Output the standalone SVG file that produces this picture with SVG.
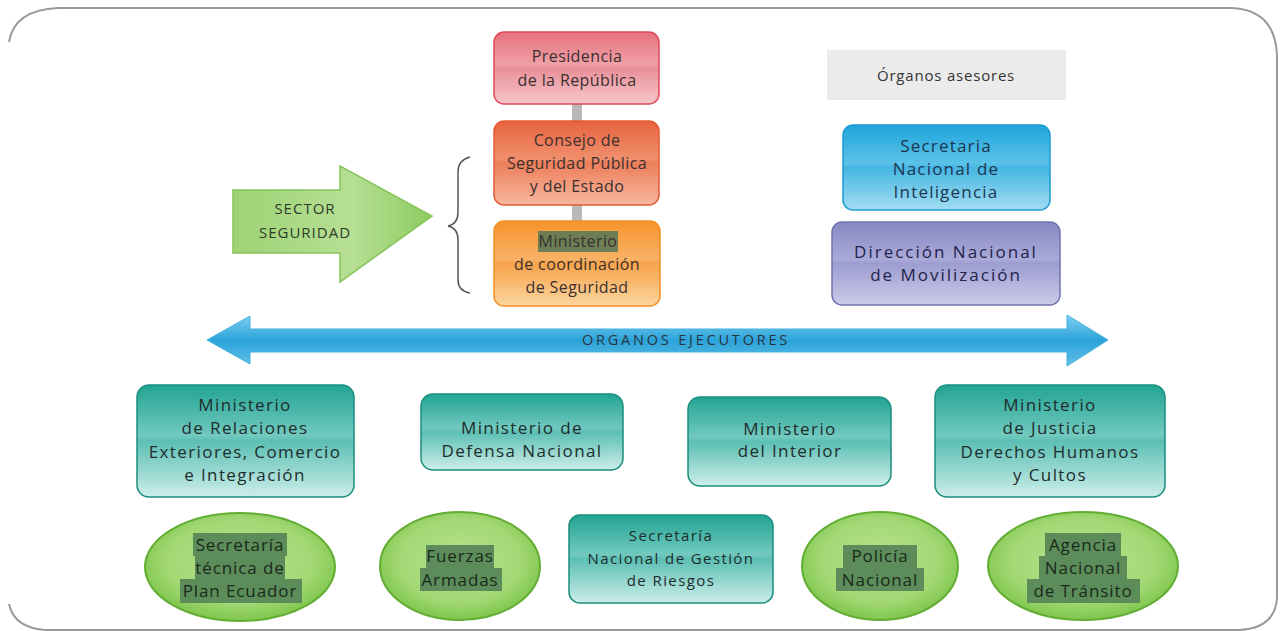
<svg xmlns="http://www.w3.org/2000/svg" width="1284" height="631" viewBox="0 0 1284 631">
<defs>
<linearGradient id="gPres" x1="0" y1="0" x2="0" y2="1">
<stop offset="0" stop-color="#e6717c"/><stop offset="0.45" stop-color="#efa0a7"/><stop offset="0.5" stop-color="#ea8f98"/><stop offset="1" stop-color="#f6c7cb"/>
</linearGradient>
<linearGradient id="gCons" x1="0" y1="0" x2="0" y2="1">
<stop offset="0" stop-color="#e8633e"/><stop offset="0.45" stop-color="#f08f6d"/><stop offset="0.5" stop-color="#ec7e5a"/><stop offset="1" stop-color="#f8b79f"/>
</linearGradient>
<linearGradient id="gCoord" x1="0" y1="0" x2="0" y2="1">
<stop offset="0" stop-color="#f6932c"/><stop offset="0.45" stop-color="#f9b266"/><stop offset="0.5" stop-color="#f7a34a"/><stop offset="1" stop-color="#fcd59e"/>
</linearGradient>
<linearGradient id="gBlue" x1="0" y1="0" x2="0" y2="1">
<stop offset="0" stop-color="#1ea5dc"/><stop offset="0.45" stop-color="#5cc2e8"/><stop offset="0.5" stop-color="#45b6e2"/><stop offset="1" stop-color="#a2ddf2"/>
</linearGradient>
<linearGradient id="gPurp" x1="0" y1="0" x2="0" y2="1">
<stop offset="0" stop-color="#8787c4"/><stop offset="0.45" stop-color="#aaaad8"/><stop offset="0.5" stop-color="#9d9dd1"/><stop offset="1" stop-color="#cbcbe9"/>
</linearGradient>
<linearGradient id="gTeal" x1="0" y1="0" x2="0" y2="1">
<stop offset="0" stop-color="#22a493"/><stop offset="0.45" stop-color="#72c9bf"/><stop offset="0.5" stop-color="#5cbfb3"/><stop offset="1" stop-color="#cdeeea"/>
</linearGradient>
<radialGradient id="gEll" cx="0.5" cy="0.45" r="0.55">
<stop offset="0" stop-color="#b8e28e"/><stop offset="0.7" stop-color="#a2d874"/><stop offset="1" stop-color="#7fc64c"/>
</radialGradient>
<linearGradient id="gGreenArrow" x1="0" y1="0" x2="1" y2="0">
<stop offset="0" stop-color="#9dd375"/><stop offset="0.6" stop-color="#b6df94"/><stop offset="1" stop-color="#8ccc5f"/>
</linearGradient>
<linearGradient id="gBlueArrow" x1="0" y1="0" x2="0" y2="1">
<stop offset="0" stop-color="#7fd0f0"/><stop offset="0.5" stop-color="#2ba3d9"/><stop offset="1" stop-color="#62bfe7"/>
</linearGradient>
<style>
text{font-family:"Open Sans","Noto Sans","DejaVu Sans",sans-serif;text-anchor:middle;}
.t{font-size:16px;fill:#3b3030;letter-spacing:0.4px;}
.tb{font-size:17px;fill:#1c3550;letter-spacing:1.2px;}
.tp{font-size:17px;fill:#23234a;letter-spacing:2px;}
.tt{font-size:17px;fill:#1e2d2c;letter-spacing:1.4px;}
.te{font-size:17px;fill:#1a2a1a;letter-spacing:0.9px;}
.box{stroke-width:1.5;}
.hl{fill:#5c8c5a;}
.link{stroke:#b9b9b9;stroke-width:10;}
</style>
</defs>
<rect x="0" y="0" width="1284" height="631" fill="#ffffff"/>
<path id="frame" d="M 9 42 Q 14 10 58 8 L 1232 8 Q 1275 10 1277 55 L 1277 598 Q 1275 628 1240 630 L 46 630 Q 14 628 9 604" fill="none" stroke="#9a9a9a" stroke-width="2"/>

<g id="connectors">
<line class="link" x1="577" y1="104" x2="577" y2="122"/>
<line class="link" x1="577" y1="205" x2="577" y2="222"/>
</g>

<g id="sector-seguridad">
<path d="M 233 190 L 340 190 L 340 166 L 432 216 L 340 282 L 340 253 L 233 253 Z" fill="url(#gGreenArrow)" stroke="#86c45a" stroke-width="1.5"/>
<text x="305" y="214" style="font-size:15px;fill:#2f3a2a;letter-spacing:1px">SECTOR</text>
<text x="305" y="238" style="font-size:15px;fill:#2f3a2a;letter-spacing:1px">SEGURIDAD</text>
</g>

<g id="brace">
<path d="M 470 157 Q 458 160 458 172 L 458 212 Q 458 224 448 226 Q 458 228 458 240 L 458 280 Q 458 291 470 293" fill="none" stroke="#555555" stroke-width="1.5"/>
</g>

<g id="presidencia">
<rect class="box" x="494" y="32" width="165" height="72" rx="10" fill="url(#gPres)" stroke="#de4b5a"/>
<text class="t" x="577" y="62">Presidencia</text>
<text class="t" x="577" y="86">de la República</text>
</g>

<g id="consejo">
<rect class="box" x="494" y="121" width="165" height="84" rx="10" fill="url(#gCons)" stroke="#e25a34"/>
<text class="t" x="577" y="146">Consejo de</text>
<text class="t" x="577" y="169">Seguridad Pública</text>
<text class="t" x="577" y="192">y del Estado</text>
</g>

<g id="ministerio-coordinacion">
<rect class="box" x="494" y="221" width="166" height="85" rx="10" fill="url(#gCoord)" stroke="#f28f22"/>
<rect x="538" y="231" width="80" height="21" fill="#6d7e55"/>
<text class="t" x="578" y="247">Ministerio</text>
<text class="t" x="577" y="270">de coordinación</text>
<text class="t" x="577" y="293">de Seguridad</text>
</g>

<g id="organos-asesores">
<rect x="827" y="50" width="239" height="50" fill="#ebebeb"/>
<text x="946" y="81" style="font-size:15px;fill:#333;letter-spacing:0.8px">Órganos asesores</text>
</g>

<g id="secretaria-inteligencia">
<rect class="box" x="843" y="125" width="207" height="85" rx="10" fill="url(#gBlue)" stroke="#1b9bd1"/>
<text class="tb" x="946" y="152">Secretaria</text>
<text class="tb" x="946" y="175">Nacional de</text>
<text class="tb" x="946" y="198">Inteligencia</text>
</g>

<g id="direccion-movilizacion">
<rect class="box" x="832" y="222" width="228" height="83" rx="10" fill="url(#gPurp)" stroke="#7272b2"/>
<text class="tp" x="946" y="258">Dirección Nacional</text>
<text class="tp" x="946" y="281">de Movilización</text>
</g>

<g id="organos-ejecutores">
<path d="M 207 340 L 250 316 L 250 329 L 1067 329 L 1067 315 L 1108 340 L 1067 366 L 1067 352 L 250 352 L 250 364 Z" fill="url(#gBlueArrow)" stroke="#45b2e0" stroke-width="1"/>
<text x="686" y="345" style="font-size:14.5px;fill:#2a3440;letter-spacing:2.8px">ORGANOS EJECUTORES</text>
</g>

<g id="ministerio-relaciones">
<rect class="box" x="137" y="385" width="217" height="112" rx="12" fill="url(#gTeal)" stroke="#1a8e7f"/>
<text class="tt" x="245" y="411">Ministerio</text>
<text class="tt" x="245" y="434">de Relaciones</text>
<text class="tt" x="245" y="458">Exteriores, Comercio</text>
<text class="tt" x="245" y="481">e Integración</text>
</g>

<g id="ministerio-defensa">
<rect class="box" x="421" y="394" width="202" height="76" rx="12" fill="url(#gTeal)" stroke="#1a8e7f"/>
<text class="tt" x="522" y="434">Ministerio de</text>
<text class="tt" x="522" y="457">Defensa Nacional</text>
</g>

<g id="ministerio-interior">
<rect class="box" x="688" y="397" width="203" height="89" rx="12" fill="url(#gTeal)" stroke="#1a8e7f"/>
<text class="tt" x="790" y="435">Ministerio</text>
<text class="tt" x="790" y="457">del Interior</text>
</g>

<g id="ministerio-justicia">
<rect class="box" x="935" y="385" width="230" height="112" rx="12" fill="url(#gTeal)" stroke="#1a8e7f"/>
<text class="tt" x="1050" y="411">Ministerio</text>
<text class="tt" x="1050" y="434">de Justicia</text>
<text class="tt" x="1050" y="458">Derechos Humanos</text>
<text class="tt" x="1050" y="481">y Cultos</text>
</g>

<g id="secretaria-plan-ecuador">
<ellipse cx="240" cy="567" rx="95" ry="54" fill="url(#gEll)" stroke="#62ad33" stroke-width="2"/>
<rect class="hl" x="193" y="533" width="94" height="23"/>
<rect class="hl" x="195" y="556" width="90" height="23"/>
<rect class="hl" x="180" y="579" width="122" height="24"/>
<text class="te" x="240" y="551">Secretaría</text>
<text class="te" x="240" y="574">técnica de</text>
<text class="te" x="240" y="597">Plan Ecuador</text>
</g>

<g id="fuerzas-armadas">
<ellipse cx="460" cy="566" rx="80" ry="54" fill="url(#gEll)" stroke="#62ad33" stroke-width="2"/>
<rect class="hl" x="426" y="545" width="68" height="23"/>
<rect class="hl" x="420" y="568" width="82" height="23"/>
<text class="te" x="460" y="562">Fuerzas</text>
<text class="te" x="460" y="586">Armadas</text>
</g>

<g id="secretaria-riesgos">
<rect class="box" x="569" y="515" width="204" height="88" rx="11" fill="url(#gTeal)" stroke="#1a8e7f"/>
<text x="671" y="541" style="font-size:15px;fill:#1e2d2c;letter-spacing:1.4px">Secretaría</text>
<text x="671" y="564" style="font-size:15px;fill:#1e2d2c;letter-spacing:1.4px">Nacional de Gestión</text>
<text x="671" y="586" style="font-size:15px;fill:#1e2d2c;letter-spacing:1.4px">de Riesgos</text>
</g>

<g id="policia-nacional">
<ellipse cx="880" cy="566" rx="78" ry="54" fill="url(#gEll)" stroke="#62ad33" stroke-width="2"/>
<rect class="hl" x="843" y="545" width="74" height="23"/>
<rect class="hl" x="836" y="568" width="88" height="23"/>
<text class="te" x="880" y="562">Policía</text>
<text class="te" x="880" y="586">Nacional</text>
</g>

<g id="agencia-transito">
<ellipse cx="1083" cy="566" rx="95" ry="54" fill="url(#gEll)" stroke="#62ad33" stroke-width="2"/>
<rect class="hl" x="1045" y="533" width="76" height="23"/>
<rect class="hl" x="1039" y="556" width="88" height="23"/>
<rect class="hl" x="1027" y="579" width="113" height="24"/>
<text class="te" x="1083" y="551">Agencia</text>
<text class="te" x="1083" y="574">Nacional</text>
<text class="te" x="1083" y="597">de Tránsito</text>
</g>
</svg>
